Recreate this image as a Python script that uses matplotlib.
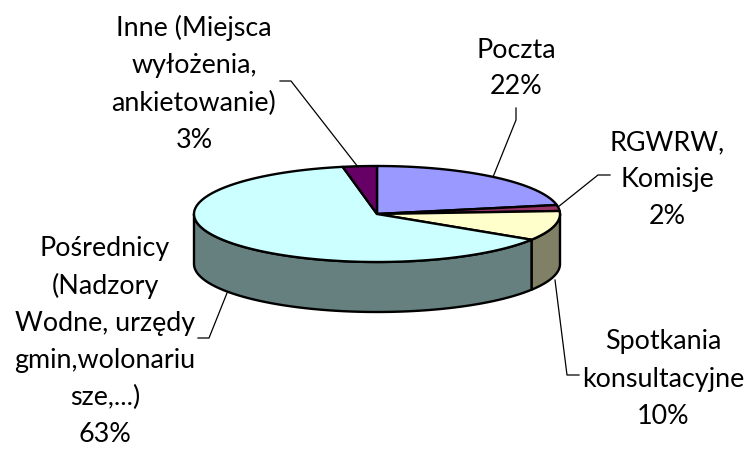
import numpy as np
import matplotlib
matplotlib.use('Agg')
import matplotlib.pyplot as plt
from matplotlib.patches import Polygon

plt.rcParams['font.family'] = ['Lato', 'DejaVu Sans']

# slices, clockwise from 12 o'clock
labels = ['Poczta', 'RGWRW,\nKomisje', 'Spotkania\nkonsultacyjne',
          'Pośrednicy\n(Nadzory\nWodne, urzędy\ngmin,wolonariu\nsze,...)',
          'Inne (Miejsca\nwyłożenia,\nankietowanie)']
shares = [22, 2, 10, 63, 3]
top_colors = ['#9999FF', '#993366', '#FFFFCC', '#CCFFFF', '#660066']
side_colors = ['#4D4D80', '#4D1A33', '#808066', '#668080', '#330033']

label_pos = [(516, 68.5), (667, 180), (663, 379), (105, 341.5), (194, 84)]
leaders = [
    [(516, 108), (516, 120), (493, 177)],
    [(610, 175), (598, 175), (558, 207)],
    [(579, 375), (567, 375), (555, 280)],
    [(198, 338), (209, 338), (227, 293)],
    [(280, 81), (291, 81), (358, 167)],
]

# pie geometry in pixels
cx, cy = 377, 214
a, b = 183, 48
depth = 50


def rim(t):
    return np.column_stack((cx + a * np.sin(t), cy - b * np.cos(t)))


fig = plt.figure(figsize=(7.5, 4.49), dpi=100)
ax = fig.add_axes([0, 0, 1, 1])
ax.set_xlim(0, 750)
ax.set_ylim(449, 0)
ax.axis('off')

edges = np.radians(np.cumsum([0] + shares) * 3.6)

# side wall, only the part facing the viewer
for i in range(len(shares)):
    lo = max(edges[i], np.pi / 2)
    hi = min(edges[i + 1], 3 * np.pi / 2)
    if hi <= lo:
        continue
    t = np.linspace(lo, hi, 120)
    upper = rim(t)
    lower = upper[::-1] + [0, depth]
    ax.add_patch(Polygon(np.vstack((upper, lower)), closed=True,
                         facecolor=side_colors[i], edgecolor='black', lw=1.7,
                         joinstyle='round', zorder=2))

# top face
for i in range(len(shares)):
    t = np.linspace(edges[i], edges[i + 1], 200)
    pts = np.vstack(([[cx, cy]], rim(t)))
    ax.add_patch(Polygon(pts, closed=True, facecolor=top_colors[i],
                         edgecolor='black', lw=1.7, joinstyle='round', zorder=3))

for pts in leaders:
    xs, ys = zip(*pts)
    ax.plot(xs, ys, color='black', lw=0.9, zorder=4)

for name, share, (x, y) in zip(labels, shares, label_pos):
    ax.text(x, y, f'{name}\n{share}%', ha='center', va='center',
            fontsize=19.4, color='black', linespacing=1.6, zorder=5)

fig.savefig('out.png', dpi=100, facecolor='white')
